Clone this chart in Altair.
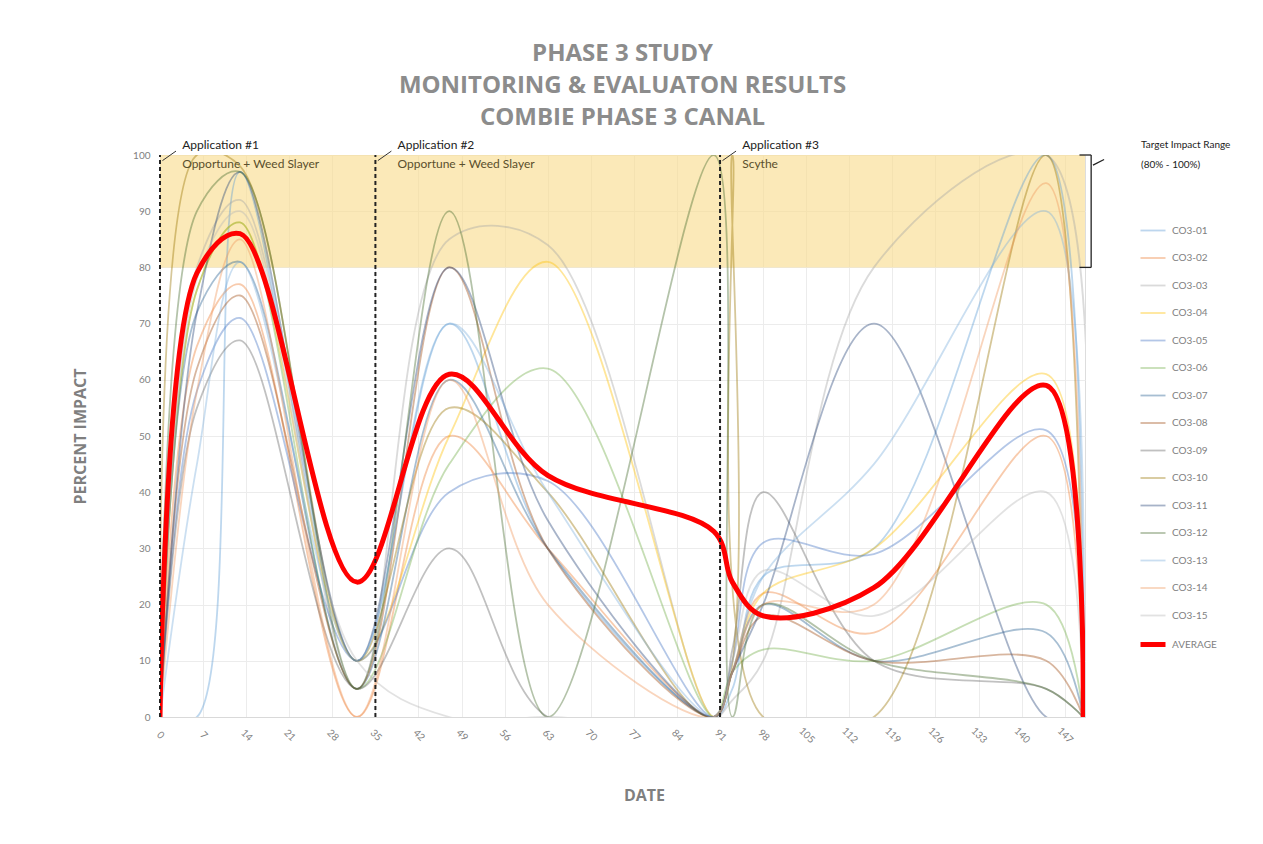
import altair as alt
import pandas as pd

# ---------------- data ----------------
DAYS = [0, 6, 13, 32, 47, 63, 90, 93, 98, 116, 144, 150]

SERIES_NAMES = ["CO3-01", "CO3-02", "CO3-03", "CO3-04", "CO3-05", "CO3-06", "CO3-07",
                "CO3-08", "CO3-09", "CO3-10", "CO3-11", "CO3-12", "CO3-13", "CO3-14", "CO3-15"]

CO3_01 = [0, 0, 97, 10, 70, 30, 0, 5, 25, 30, 100, 0]
CO3_02 = [0, 66, 77, 0, 50, 30, 0, 8, 22, 15, 50, 0]
CO3_03 = [0, 80, 92, 5, 85, 84, 0, 3, 10, 80, 100, 0]
CO3_04 = [0, 76, 88, 10, 50, 81, 0, 8, 22, 30, 61, 0]
CO3_05 = [0, 58, 71, 10, 40, 42, 0, 10, 31, 29, 51, 0]
CO3_06 = [0, 76, 88, 5, 45, 62, 0, 8, 12, 10, 20, 0]
CO3_07 = [0, 72, 81, 5, 60, 30, 0, 8, 20, 10, 15, 0]
CO3_08 = [0, 62, 75, 5, 80, 30, 0, 8, 18, 10, 10, 0]
CO3_09 = [0, 55, 67, 5, 30, 0, 0, 12, 40, 10, 5, 0]
CO3_10 = [0, 100, 98, 10, 55, 40, 0, 100, 0, 0, 100, 0]
CO3_11 = [0, 72, 97, 10, 80, 35, 0, 8, 20, 70, 0, 0]
CO3_12 = [0, 90, 97, 5, 90, 0, 100, 0, 20, 10, 5, 0]
CO3_13 = [0, 45, 81, 10, 70, 40, 0, 8, 25, 45, 90, 0]
CO3_14 = [0, 58, 85, 0, 60, 20, 0, 8, 20, 20, 95, 0]
CO3_15 = [0, 78, 90, 10, 0, 0, 0, 10, 26, 18, 40, 0]
AVERAGE = [0, 79, 86, 24, 61, 43, 33, 24, 18, 23, 59, 0]

SERIES_VALUES = [CO3_01, CO3_02, CO3_03, CO3_04, CO3_05, CO3_06, CO3_07, CO3_08,
                 CO3_09, CO3_10, CO3_11, CO3_12, CO3_13, CO3_14, CO3_15]

SERIES_COLORS = ["#5B9BD5", "#ED7D31", "#A5A5A5", "#FFC000", "#4472C4", "#70AD47", "#255E91",
                 "#9E480E", "#636363", "#997300", "#264478", "#43682B", "#7CAFDD", "#F1975A", "#B7B7B7"]
AVERAGE_COLOR = "#FF0000"

X_TICKS = list(range(0, 148, 7))
X_MAX = 150.3
Y_TICKS = list(range(0, 101, 10))

APPLICATION_DAYS = [0, 35, 91]
APPLICATION_TITLES = ["Application #1", "Application #2", "Application #3"]
APPLICATION_PRODUCTS = ["Opportune + Weed Slayer", "Opportune + Weed Slayer", "Scythe"]

TARGET_LOW, TARGET_HIGH = 80, 100
TARGET_TEXT = ["Target Impact Range", "(80% - 100%)"]

TITLE_LINES = ["PHASE 3 STUDY", "MONITORING & EVALUATON RESULTS", "COMBIE PHASE 3 CANAL"]

# ---------------- tables ----------------
rows = []
for name, vals in zip(SERIES_NAMES, SERIES_VALUES):
    for d, v in zip(DAYS, vals):
        rows.append({"day": d, "value": v, "series": name})
series_df = pd.DataFrame(rows)
avg_df = pd.DataFrame({"day": DAYS, "value": AVERAGE, "series": ["AVERAGE"] * len(DAYS)})

ALL_NAMES = SERIES_NAMES + ["AVERAGE"]
ALL_COLORS = SERIES_COLORS + [AVERAGE_COLOR]

band_df = pd.DataFrame({"x0": [0], "x1": [X_MAX], "y0": [TARGET_LOW], "y1": [TARGET_HIGH]})
app_df = pd.DataFrame({"day": APPLICATION_DAYS, "title": APPLICATION_TITLES,
                       "product": APPLICATION_PRODUCTS, "top": [TARGET_HIGH] * 3, "bottom": [0] * 3})
app_df["lx0"] = app_df["day"] + 0.4
app_df["lx1"] = app_df["day"] + 2.6
app_df["tx"] = app_df["day"] + 3.6

FONT = "Lato"
GREY = "#7f7f7f"

x_scale = alt.Scale(domain=[0, X_MAX], nice=False, zero=False)
y_scale = alt.Scale(domain=[0, 100], nice=False)

x_enc = alt.X("day:Q", scale=x_scale,
              axis=alt.Axis(values=X_TICKS, title="DATE", labelAngle=45, labelAlign="center",
                            labelBaseline="middle", labelPadding=18, tickSize=0,
                            grid=True, gridColor="#ececec", domainColor="#d9d9d9",
                            labelColor=GREY, labelFont=FONT, labelFontSize=10,
                            titleFont="Open Sans", titleFontSize=16, titleFontWeight="bold",
                            titleColor=GREY, titleX=484, titleY=78, titleBaseline="middle",
                            titleAlign="center"))
y_enc = alt.Y("value:Q", scale=y_scale,
              axis=alt.Axis(values=Y_TICKS, title="PERCENT IMPACT", tickSize=0, labelPadding=10,
                            grid=True, gridColor="#ececec", domain=False,
                            labelColor=GREY, labelFont=FONT, labelFontSize=10,
                            titleFont="Open Sans", titleFontSize=16, titleFontWeight="bold",
                            titleColor=GREY, titleX=-80, titleY=281, titleAngle=-90,
                            titleBaseline="middle", titleAlign="center"))

LEGEND = dict(title=None, orient="none", legendX=978, legendY=62,
              symbolType="stroke", symbolSize=625, rowPadding=8.5,
              labelColor=GREY, labelFont=FONT, labelFontSize=10, labelOffset=4)

color_enc = alt.Color("series:N", scale=alt.Scale(domain=ALL_NAMES, range=ALL_COLORS),
                      legend=alt.Legend(**LEGEND))
sw_enc = alt.StrokeWidth("series:N",
                         scale=alt.Scale(type="ordinal", domain=ALL_NAMES, range=[1.8] * 15 + [5]),
                         legend=alt.Legend(**LEGEND))
op_enc = alt.Opacity("series:N",
                     scale=alt.Scale(type="ordinal", domain=ALL_NAMES, range=[0.4] * 15 + [1]),
                     legend=alt.Legend(**LEGEND))

band = alt.Chart(band_df).mark_rect(color="#F9DC8C", opacity=0.62).encode(
    x=alt.X("x0:Q", scale=x_scale), x2="x1:Q",
    y=alt.Y("y0:Q", scale=y_scale), y2="y1:Q")

series_lines = alt.Chart(series_df).mark_line(interpolate="catmull-rom", clip=True).encode(
    x=x_enc, y=y_enc, color=color_enc, strokeWidth=sw_enc, opacity=op_enc,
    detail="series:N")

avg_line = alt.Chart(avg_df).mark_line(interpolate="catmull-rom", clip=True).encode(
    x=alt.X("day:Q", scale=x_scale), y=alt.Y("value:Q", scale=y_scale),
    color=color_enc, strokeWidth=sw_enc, opacity=op_enc)

app_rules = alt.Chart(app_df).mark_rule(color="#222222", strokeWidth=2, strokeDash=[4, 3]).encode(
    x=alt.X("day:Q", scale=x_scale), y=alt.Y("bottom:Q", scale=y_scale), y2="top:Q")

app_leaders = alt.Chart(app_df).mark_rule(color="#333333", strokeWidth=1).encode(
    x=alt.X("lx0:Q", scale=x_scale), x2="lx1:Q",
    y=alt.Y("y:Q", scale=y_scale), y2="y2:Q").transform_calculate(y="99", y2="100.7")

app_titles = alt.Chart(app_df).mark_text(align="left", baseline="alphabetic", font=FONT,
                                         fontSize=12, color="#222222").encode(
    x=alt.X("tx:Q", scale=x_scale), y=alt.Y("ty:Q", scale=y_scale), text="title:N"
).transform_calculate(ty="101.1")

app_products = alt.Chart(app_df).mark_text(align="left", baseline="alphabetic", font=FONT,
                                           fontSize=12, color="#5a4f2c").encode(
    x=alt.X("tx:Q", scale=x_scale), y=alt.Y("ty:Q", scale=y_scale), text="product:N"
).transform_calculate(ty="97.6")

target_df = pd.DataFrame({"x": [159.4, 159.4], "y": [101.2, 97.6], "t": TARGET_TEXT})
target_text = alt.Chart(target_df).mark_text(align="left", baseline="alphabetic", font=FONT,
                                             fontSize=10, color="#222222").encode(
    x=alt.X("x:Q", scale=x_scale), y=alt.Y("y:Q", scale=y_scale), text="t:N")

bracket_df = pd.DataFrame({
    "x0": [151.3, 149.4, 149.4, 151.6],
    "x1": [151.3, 151.3, 151.3, 153.4],
    "y0": [TARGET_HIGH, TARGET_HIGH, TARGET_LOW, 98.2],
    "y1": [TARGET_LOW, TARGET_HIGH, TARGET_LOW, 99.2],
})
bracket = alt.Chart(bracket_df).mark_rule(color="#222222", strokeWidth=1.3).encode(
    x=alt.X("x0:Q", scale=x_scale), x2="x1:Q",
    y=alt.Y("y0:Q", scale=y_scale), y2="y1:Q")

chart = alt.layer(band, series_lines, avg_line, app_rules, app_leaders, app_titles,
                  app_products, target_text, bracket).properties(
    width=925, height=562,
    title=alt.TitleParams(text=TITLE_LINES, font="Open Sans", fontSize=24, fontWeight="bold",
                          color="#8c8c8c", lineHeight=32, anchor="middle", offset=9),
    autosize=alt.AutoSizeParams(type="none"),
    padding={"left": 152, "top": 147, "right": 160, "bottom": 110},
).configure_view(stroke=None).configure(background="white")

chart.save("out.html", embed_options={"renderer": "svg", "actions": False})
